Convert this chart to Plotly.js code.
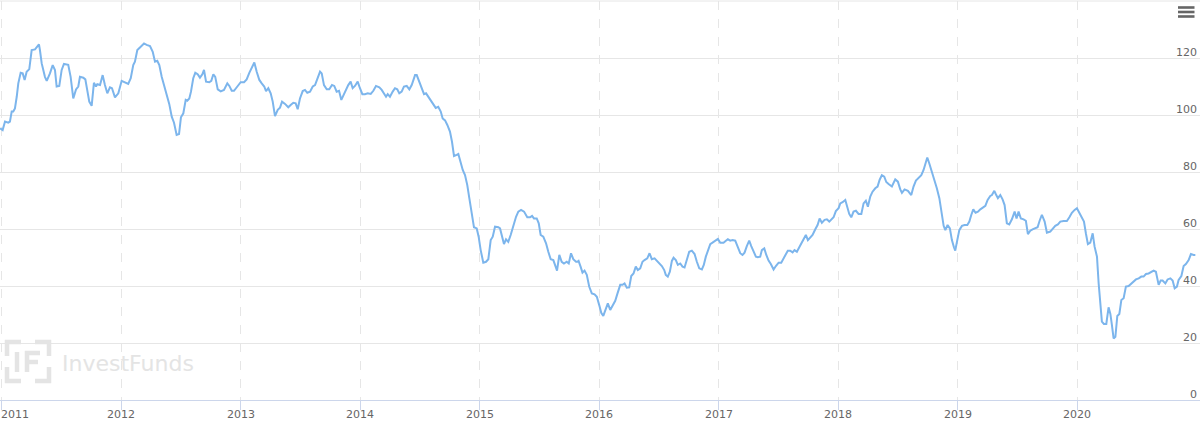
<!DOCTYPE html>
<html>
<head>
<meta charset="utf-8">
<script src="https://cdn.plot.ly/plotly-3.0.1.min.js"></script>
<style>
  html, body { margin: 0; padding: 0; background: #ffffff; }
  #chart { width: 1200px; height: 422px; }
</style>
</head>
<body>
<div id="chart"></div>
<script>
// ---- Data ----
const dates = [
  2010.986, 2011.008, 2011.028, 2011.055, 2011.069, 2011.084, 2011.097, 2011.111, 2011.126, 2011.139,
  2011.159, 2011.176, 2011.192, 2011.209, 2011.231, 2011.251, 2011.279, 2011.293, 2011.312, 2011.320,
  2011.335, 2011.362, 2011.377, 2011.404, 2011.427, 2011.446, 2011.460, 2011.482, 2011.502, 2011.521,
  2011.557, 2011.577, 2011.599, 2011.622, 2011.641, 2011.655, 2011.683, 2011.700, 2011.716, 2011.733,
  2011.753, 2011.772, 2011.789, 2011.800, 2011.823, 2011.845, 2011.864, 2011.884, 2011.906, 2011.923,
  2011.948, 2011.976, 2012.004, 2012.023, 2012.059, 2012.080, 2012.101, 2012.115, 2012.135, 2012.157,
  2012.191, 2012.213, 2012.241, 2012.264, 2012.283, 2012.302, 2012.319, 2012.339, 2012.358, 2012.381,
  2012.402, 2012.423, 2012.442, 2012.464, 2012.484, 2012.500, 2012.520, 2012.540, 2012.553, 2012.570,
  2012.584, 2012.603, 2012.620, 2012.640, 2012.659, 2012.679, 2012.693, 2012.710, 2012.737, 2012.754,
  2012.771, 2012.787, 2012.808, 2012.833, 2012.860, 2012.888, 2012.905, 2012.925, 2012.944, 2012.972,
  2013.000, 2013.028, 2013.050, 2013.072, 2013.092, 2013.114, 2013.134, 2013.156, 2013.176, 2013.197,
  2013.212, 2013.231, 2013.251, 2013.268, 2013.287, 2013.310, 2013.329, 2013.346, 2013.371, 2013.398,
  2013.418, 2013.440, 2013.460, 2013.477, 2013.496, 2013.519, 2013.538, 2013.557, 2013.580, 2013.603,
  2013.622, 2013.641, 2013.664, 2013.678, 2013.697, 2013.720, 2013.741, 2013.764, 2013.783, 2013.803,
  2013.823, 2013.842, 2013.859, 2013.881, 2013.900, 2013.920, 2013.937, 2013.956, 2013.979, 2013.998,
  2014.018, 2014.040, 2014.063, 2014.088, 2014.110, 2014.132, 2014.160, 2014.180, 2014.199, 2014.216,
  2014.230, 2014.249, 2014.272, 2014.291, 2014.310, 2014.327, 2014.347, 2014.366, 2014.389, 2014.411,
  2014.431, 2014.459, 2014.473, 2014.492, 2014.515, 2014.534, 2014.551, 2014.570, 2014.590, 2014.612,
  2014.632, 2014.653, 2014.674, 2014.690, 2014.710, 2014.729, 2014.751, 2014.768, 2014.785, 2014.807,
  2014.821, 2014.835, 2014.858, 2014.877, 2014.896, 2014.913, 2014.933, 2014.952, 2014.975, 2014.991,
  2015.008, 2015.030, 2015.053, 2015.072, 2015.092, 2015.109, 2015.128, 2015.156, 2015.170, 2015.186,
  2015.203, 2015.220, 2015.239, 2015.259, 2015.281, 2015.304, 2015.323, 2015.346, 2015.371, 2015.398,
  2015.421, 2015.438, 2015.454, 2015.477, 2015.494, 2015.510, 2015.532, 2015.555, 2015.574, 2015.594,
  2015.616, 2015.633, 2015.647, 2015.666, 2015.686, 2015.705, 2015.728, 2015.745, 2015.764, 2015.783,
  2015.806, 2015.817, 2015.827, 2015.844, 2015.860, 2015.877, 2015.896, 2015.916, 2015.938, 2015.961,
  2015.980, 2016.000, 2016.017, 2016.034, 2016.050, 2016.072, 2016.092, 2016.111, 2016.134, 2016.153,
  2016.176, 2016.195, 2016.212, 2016.231, 2016.251, 2016.268, 2016.287, 2016.306, 2016.323, 2016.343,
  2016.362, 2016.379, 2016.402, 2016.421, 2016.440, 2016.463, 2016.482, 2016.502, 2016.524, 2016.544,
  2016.557, 2016.574, 2016.591, 2016.608, 2016.622, 2016.641, 2016.658, 2016.678, 2016.697, 2016.714,
  2016.733, 2016.753, 2016.775, 2016.798, 2016.817, 2016.837, 2016.859, 2016.875, 2016.892, 2016.909,
  2016.929, 2016.948, 2016.971, 2016.993, 2017.013, 2017.040, 2017.060, 2017.076, 2017.096, 2017.116,
  2017.138, 2017.160, 2017.180, 2017.199, 2017.216, 2017.235, 2017.255, 2017.272, 2017.291, 2017.311,
  2017.327, 2017.347, 2017.361, 2017.381, 2017.398, 2017.417, 2017.436, 2017.459, 2017.478, 2017.501,
  2017.523, 2017.542, 2017.562, 2017.578, 2017.598, 2017.618, 2017.634, 2017.654, 2017.674, 2017.691,
  2017.710, 2017.729, 2017.746, 2017.766, 2017.785, 2017.808, 2017.827, 2017.844, 2017.863, 2017.886,
  2017.905, 2017.925, 2017.942, 2017.961, 2017.980, 2018.003, 2018.017, 2018.036, 2018.059, 2018.076,
  2018.092, 2018.109, 2018.128, 2018.148, 2018.170, 2018.193, 2018.212, 2018.231, 2018.248, 2018.268,
  2018.287, 2018.310, 2018.329, 2018.346, 2018.365, 2018.385, 2018.402, 2018.421, 2018.449, 2018.477,
  2018.499, 2018.519, 2018.533, 2018.555, 2018.583, 2018.611, 2018.630, 2018.650, 2018.672, 2018.695,
  2018.714, 2018.728, 2018.745, 2018.762, 2018.784, 2018.806, 2018.825, 2018.846, 2018.862, 2018.882,
  2018.896, 2018.915, 2018.934, 2018.951, 2018.968, 2018.979, 2018.996, 2019.013, 2019.035, 2019.057,
  2019.080, 2019.097, 2019.113, 2019.130, 2019.149, 2019.169, 2019.189, 2019.208, 2019.231, 2019.250,
  2019.272, 2019.286, 2019.306, 2019.319, 2019.336, 2019.356, 2019.375, 2019.392, 2019.411, 2019.431,
  2019.453, 2019.476, 2019.492, 2019.509, 2019.528, 2019.551, 2019.570, 2019.587, 2019.607, 2019.626,
  2019.649, 2019.668, 2019.685, 2019.704, 2019.727, 2019.746, 2019.774, 2019.794, 2019.816, 2019.838,
  2019.858, 2019.886, 2019.913, 2019.934, 2019.955, 2019.978, 2019.997, 2020.017, 2020.039, 2020.056,
  2020.072, 2020.089, 2020.109, 2020.129, 2020.145, 2020.165, 2020.179, 2020.193, 2020.206, 2020.223,
  2020.243, 2020.262, 2020.277, 2020.290, 2020.304, 2020.319, 2020.335, 2020.352, 2020.369, 2020.388,
  2020.407, 2020.430, 2020.452, 2020.472, 2020.491, 2020.514, 2020.536, 2020.555, 2020.575, 2020.597,
  2020.620, 2020.639, 2020.658, 2020.681, 2020.698, 2020.714, 2020.737, 2020.756, 2020.779, 2020.798,
  2020.815, 2020.834, 2020.848, 2020.871, 2020.890, 2020.909, 2020.932, 2020.951, 2020.974, 2020.988
];

const prices = [
  95.3, 94.7, 97.7, 97.3, 97.7, 101.2, 101.2, 102.3, 106.4, 111.1,
  114.8, 114.6, 112.3, 115.2, 116.1, 122.8, 123.0, 123.7, 124.8, 122.8,
  118.1, 113.4, 112.0, 114.6, 117.5, 115.8, 110.0, 110.2, 115.8, 117.9,
  117.6, 113.4, 105.8, 109.0, 110.0, 113.4, 113.1, 112.5, 108.2, 104.7,
  103.2, 111.3, 110.0, 110.8, 110.5, 114.0, 110.5, 107.6, 109.7, 109.4,
  106.2, 107.6, 112.0, 111.7, 110.9, 112.9, 117.5, 118.7, 122.8, 123.7,
  125.1, 124.6, 124.2, 122.2, 118.7, 119.0, 117.5, 113.4, 110.5, 107.6,
  103.9, 99.4, 97.3, 93.0, 93.3, 99.2, 100.6, 105.3, 105.0, 105.8,
  108.2, 112.9, 114.8, 114.3, 113.1, 114.3, 115.8, 111.7, 111.5, 112.0,
  114.3, 113.4, 109.0, 108.3, 108.8, 111.1, 110.2, 108.5, 108.5, 110.0,
  111.5, 111.5, 112.5, 114.8, 116.7, 118.4, 115.2, 112.3, 111.1, 110.0,
  108.4, 109.4, 107.6, 104.7, 99.6, 101.8, 102.6, 104.7, 103.9, 102.7,
  103.5, 104.3, 104.1, 102.0, 105.8, 108.4, 108.8, 107.8, 108.2, 110.0,
  110.5, 112.9, 115.2, 114.6, 110.5, 109.0, 109.0, 110.5, 110.2, 108.2,
  108.5, 105.3, 107.0, 109.0, 110.5, 111.7, 109.4, 110.2, 111.7, 109.4,
  107.3, 107.3, 107.6, 107.4, 108.5, 110.2, 109.7, 108.8, 107.6, 106.4,
  107.3, 106.4, 108.2, 109.4, 109.0, 107.6, 108.2, 110.0, 110.2, 109.0,
  110.5, 114.0, 114.0, 111.7, 108.8, 107.3, 107.6, 106.4, 105.0, 103.5,
  102.5, 102.9, 101.2, 98.8, 98.1, 96.5, 94.2, 90.6, 85.6, 86.0,
  86.3, 84.2, 80.7, 78.9, 75.4, 70.8, 65.5, 60.6, 60.2, 57.3,
  52.6, 48.2, 48.5, 49.4, 56.1, 57.3, 60.8, 60.6, 60.2, 57.3,
  54.7, 56.4, 55.5, 57.9, 61.4, 64.3, 66.1, 66.7, 66.1, 64.1,
  64.1, 64.6, 63.7, 63.7, 62.0, 57.9, 57.3, 55.0, 52.0, 49.4,
  49.1, 47.4, 45.4, 50.9, 48.5, 47.9, 48.5, 47.9, 51.5, 49.4,
  48.5, 48.5, 48.8, 46.8, 44.7, 45.4, 43.9, 39.8, 37.4, 37.1,
  36.2, 33.3, 30.6, 29.5, 31.6, 33.9, 31.6, 33.3, 34.8, 37.4,
  40.4, 40.4, 40.9, 39.4, 39.5, 43.5, 44.4, 46.8, 45.6, 46.2,
  48.5, 49.1, 49.7, 51.5, 49.4, 49.7, 48.8, 47.9, 47.0, 45.6,
  43.9, 43.3, 45.0, 48.8, 49.9, 49.1, 47.4, 47.9, 46.8, 46.5,
  49.1, 52.0, 52.4, 51.2, 48.5, 46.2, 45.8, 47.4, 50.3, 52.4,
  54.7, 55.2, 55.9, 56.5, 55.2, 55.2, 55.9, 56.4, 55.9, 56.1,
  55.9, 53.8, 51.5, 50.9, 51.7, 54.0, 55.9, 54.0, 52.0, 50.3,
  50.1, 50.3, 52.6, 53.2, 50.9, 48.9, 47.7, 45.8, 47.0, 48.2,
  48.2, 49.7, 51.7, 52.4, 52.4, 51.8, 52.6, 52.0, 53.6, 55.0,
  56.1, 57.9, 56.1, 57.1, 57.9, 59.9, 61.4, 63.7, 62.2, 63.2,
  63.4, 62.6, 63.2, 64.1, 66.3, 67.3, 69.0, 69.4, 70.2, 67.8,
  65.3, 64.1, 66.1, 66.4, 65.3, 65.3, 69.0, 69.9, 67.8, 71.4,
  73.1, 74.3, 74.9, 77.2, 78.9, 78.4, 76.5, 75.8, 74.9, 77.4,
  76.6, 73.9, 72.7, 73.9, 73.4, 71.9, 74.9, 77.0, 77.8, 78.9,
  80.7, 82.8, 85.1, 83.0, 80.1, 77.0, 74.3, 70.8, 65.7, 61.1,
  59.6, 61.4, 60.2, 56.1, 53.6, 52.4, 56.1, 59.6, 61.1, 61.4,
  61.4, 62.6, 64.9, 66.9, 65.7, 66.1, 66.9, 67.5, 68.1, 70.2,
  71.6, 71.9, 73.4, 72.2, 70.8, 71.9, 70.4, 68.4, 62.0, 61.6,
  63.4, 66.1, 63.7, 66.1, 63.7, 63.4, 62.9, 58.2, 59.4, 59.9,
  60.2, 60.6, 62.9, 65.0, 62.6, 58.7, 59.1, 59.9, 61.1, 61.6,
  62.6, 62.8, 62.8, 64.1, 65.7, 66.7, 67.3, 65.7, 64.1, 62.6,
  58.5, 54.7, 55.2, 58.5, 53.8, 50.3, 40.9, 33.9, 27.5, 26.7,
  26.7, 32.5, 30.2, 26.3, 21.6, 22.2, 29.5, 30.2, 35.1, 35.7,
  39.8, 40.0, 40.9, 41.5, 42.3, 42.7, 43.3, 43.3, 44.2, 44.4,
  45.0, 45.4, 45.0, 40.4, 41.9, 41.9, 40.9, 42.3, 42.7, 41.9,
  39.2, 39.8, 42.1, 43.5, 47.0, 47.7, 49.1, 51.2, 50.9, 50.9
];

const yearTicks = [2011, 2012, 2013, 2014, 2015, 2016, 2017, 2018, 2019, 2020];
const yearLabels = ['2011', '2012', '2013', '2014', '2015', '2016', '2017', '2018', '2019', '2020'];
const priceTicks = [0, 20, 40, 60, 80, 100, 120];
const priceLabels = ['0', '20', '40', '60', '80', '100', '120'];
const watermarkText = 'InvestFunds';

// ---- Layout helpers (decoration only) ----
const W = 1200, PLOT_TOP = 1, PLOT_BOTTOM = 400;
const px = x => x / W;
const py = y => (PLOT_BOTTOM - y) / (PLOT_BOTTOM - PLOT_TOP);

const LABEL_FONT = { family: 'DejaVu Sans, Verdana, Arial, sans-serif', size: 11, color: '#666666' };
const WM = '#e4e4e4';

const trace = {
  type: 'scatter',
  mode: 'lines',
  x: dates,
  y: prices,
  line: { color: '#7cb5ec', width: 2 },
  hoverinfo: 'x+y',
  showlegend: false
};

const annotations = yearTicks.map((yr, i) => ({
  x: yr, xref: 'x', y: 0, yref: 'paper',
  text: yearLabels[i], showarrow: false,
  xanchor: i === 0 ? 'left' : 'center', yanchor: 'top',
  xshift: i === 0 ? -3 : 0, yshift: -6,
  font: LABEL_FONT
}));

// y labels placed just above each grid line, right-aligned inside the plot
priceTicks.forEach((v, i) => {
  annotations.push({
    x: 1, xref: 'paper', y: v, yref: 'y',
    text: priceLabels[i], showarrow: false,
    xanchor: 'right', yanchor: 'middle',
    xshift: -1, yshift: 6,
    font: LABEL_FONT
  });
});

annotations.push({
  x: px(60), xref: 'paper', y: py(363.5), yref: 'paper',
  text: watermarkText, showarrow: false, xanchor: 'left', yanchor: 'middle',
  font: { family: 'DejaVu Sans, Verdana, sans-serif', size: 22, color: WM }
});

function pathFrom(points) {
  return 'M' + points.map(p => px(p[0]) + ',' + py(p[1])).join(' L');
}

const shapes = [
  // top grid line (140)
  { type: 'line', xref: 'paper', yref: 'paper', x0: 0, x1: 1, y0: 1, y1: 1,
    line: { color: '#e6e6e6', width: 1 } },
  // hamburger menu icon
  ...[7.5, 12, 16.5].map(yy => ({
    type: 'line', xref: 'paper', yref: 'paper',
    x0: px(1178), x1: px(1194.5), y0: py(yy), y1: py(yy),
    line: { color: '#666666', width: 2.6 }
  })),
  // watermark logo frame corners
  ...[
    [[21, 342], [7, 342], [7, 356]],
    [[35, 342], [49, 342], [49, 356]],
    [[7, 367], [7, 381], [21, 381]],
    [[49, 367], [49, 381], [35, 381]]
  ].map(pts => ({
    type: 'path', xref: 'paper', yref: 'paper', path: pathFrom(pts),
    line: { color: WM, width: 4.5 }
  })),
  // "I"
  { type: 'line', xref: 'paper', yref: 'paper', x0: px(17), x1: px(17), y0: py(352), y1: py(372),
    line: { color: WM, width: 4.5 } },
  // "F"
  { type: 'path', xref: 'paper', yref: 'paper', path: pathFrom([[40, 353], [27, 353], [27, 372]]),
    line: { color: WM, width: 4.5 } },
  { type: 'line', xref: 'paper', yref: 'paper', x0: px(27), x1: px(38), y0: py(362), y1: py(362),
    line: { color: WM, width: 4.5 } }
];

const layout = {
  width: 1200,
  height: 422,
  margin: { l: 0, r: 0, t: PLOT_TOP, b: 422 - PLOT_BOTTOM, pad: 0 },
  paper_bgcolor: '#ffffff',
  plot_bgcolor: '#ffffff',
  showlegend: false,
  xaxis: {
    type: 'linear',
    range: [2010.986, 2021.027],
    tickmode: 'array',
    tickvals: yearTicks,
    ticktext: yearLabels,
    showticklabels: false,
    ticks: 'outside',
    ticklen: 9,
    tickwidth: 1,
    tickcolor: '#ccd6eb',
    showgrid: true,
    gridcolor: '#e6e6e6',
    griddash: 'dash',
    gridwidth: 1,
    showline: true,
    linecolor: '#ccd6eb',
    linewidth: 1,
    zeroline: false,
    fixedrange: true
  },
  yaxis: {
    range: [0, 140],
    side: 'right',
    tickmode: 'array',
    tickvals: priceTicks,
    ticktext: priceLabels,
    showticklabels: false,
    ticks: '',
    showgrid: true,
    gridcolor: '#e6e6e6',
    gridwidth: 1,
    zeroline: false,
    showline: false,
    fixedrange: true
  },
  annotations: annotations,
  shapes: shapes
};

Plotly.newPlot('chart', [trace], layout, { displayModeBar: false, staticPlot: true });
</script>
</body>
</html>
